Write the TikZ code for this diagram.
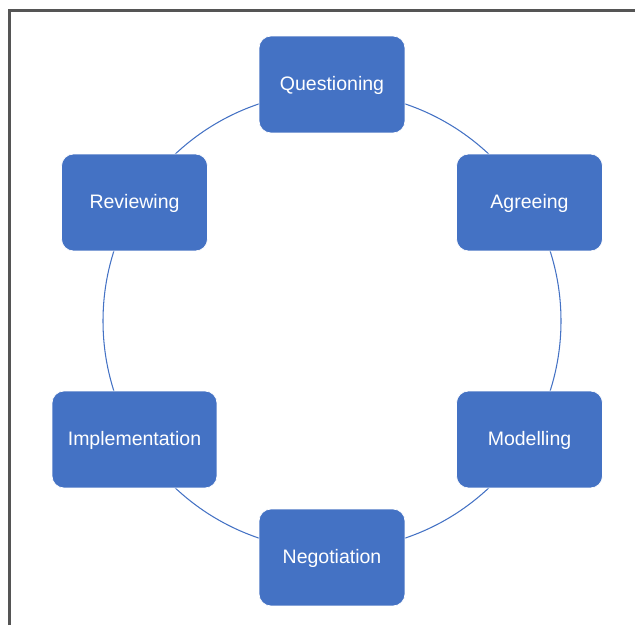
\documentclass[tikz,border=0pt]{standalone}
\usepackage{fontspec}
\setmainfont{Liberation Sans}
\definecolor{stageblue}{HTML}{4472C4}
\definecolor{framegray}{HTML}{555555}

\tikzstyle{stage} = [rectangle, rounded corners=0.24cm, fill=stageblue, draw=white, line width=0.4pt,
                     text=white, minimum width=2.92cm, minimum height=1.94cm, align=center,
                     text height=0.72em, text depth=0pt,
                     font=\fontsize{11.1}{13}\selectfont]
\tikzstyle{ring} = [draw=stageblue, line width=0.6pt]

\begin{document}
\begin{tikzpicture}[x=0.02cm, y=-0.02cm]
\useasboundingbox (0,0) rectangle (635,625);
% open frame on the left and top
\draw[framegray, line width=0.05cm] (9.5,625) -- (9.5,10.5) -- (635,10.5);

% the cycle ring behind the stages
\coordinate (centre) at (332,321);
\draw[ring] (centre) circle (229);

\node[stage] (questioning) at (332,84.5) {Questioning};
\node[stage] (agreeing) at (529.5,202.5) {Agreeing};
\node[stage] (modelling) at (529.5,439.5) {Modelling};
\node[stage] (negotiation) at (332,557.5) {Negotiation};
\node[stage, minimum width=3.3cm] (implementation) at (134.5,439.5) {Implementation};
\node[stage] (reviewing) at (134.5,202.5) {Reviewing};
\end{tikzpicture}
\end{document}
